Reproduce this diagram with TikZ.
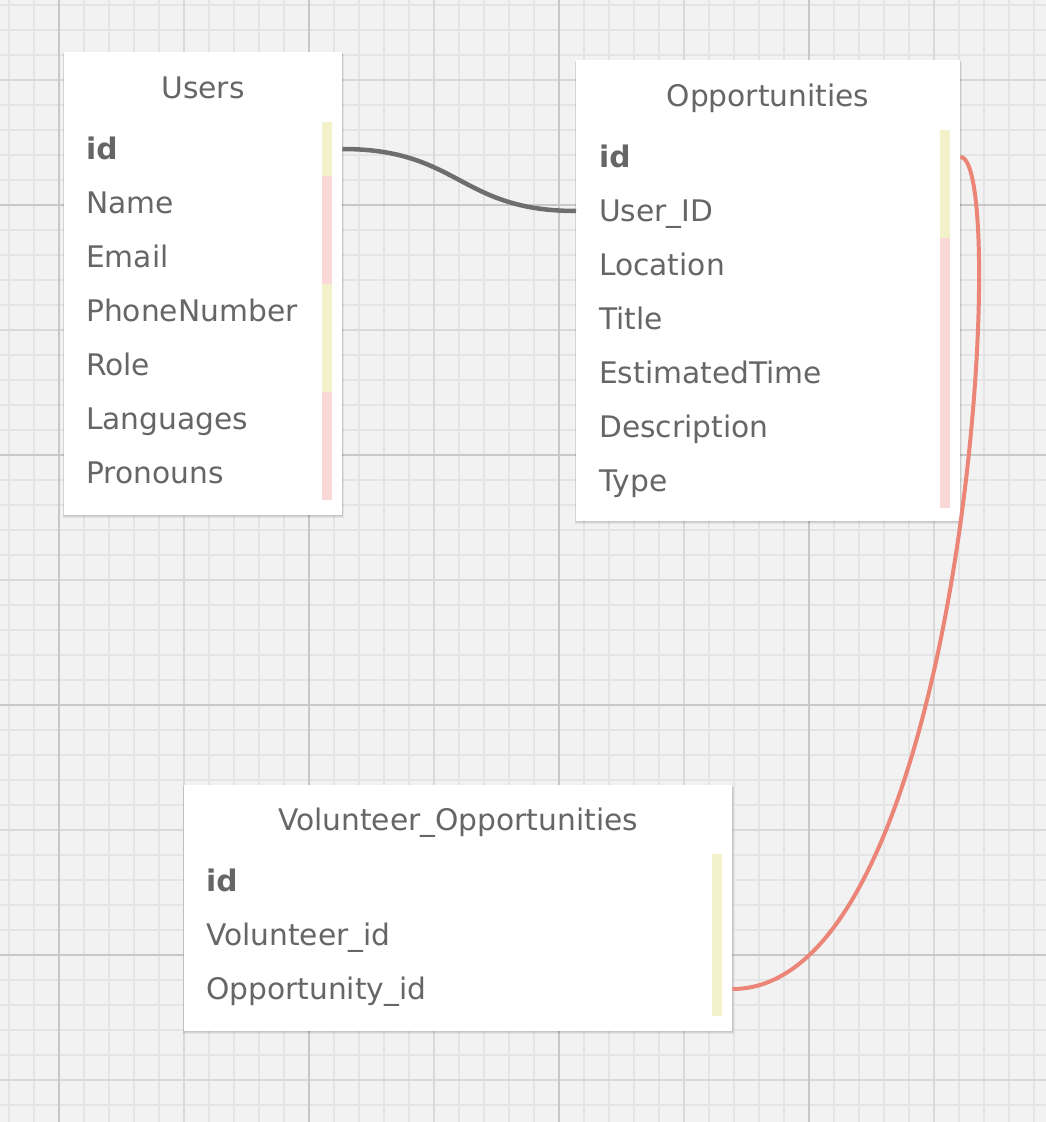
\documentclass[tikz,border=0pt]{standalone}
\usepackage{fontspec}
\setmainfont{DejaVu Sans}
\definecolor{bgc}{HTML}{F2F2F2}
\definecolor{gminor}{HTML}{E4E4E4}
\definecolor{gmed}{HTML}{D9D9D9}
\definecolor{gdark}{HTML}{C8C8C8}
\definecolor{txt}{HTML}{666666}
\definecolor{yellowbar}{HTML}{F3F1C9}
\definecolor{pinkbar}{HTML}{F9D8D7}
\definecolor{graylink}{HTML}{6E6E6E}
\definecolor{redlink}{HTML}{EB8578}
\tikzset{
  tablebox/.style={draw=none, fill=white, rectangle, inner sep=0pt, anchor=north west},
  shadowbox/.style={fill=black, opacity=0.06},
  rowtext/.style={anchor=base west, inner sep=0pt, text=txt, font=\fontsize{29.7}{34}\selectfont},
  keytext/.style={rowtext, font=\fontsize{29.7}{34}\selectfont\bfseries},
  titletext/.style={anchor=base, inner sep=0pt, text=txt, font=\fontsize{29.7}{34}\selectfont},
  link/.style={line width=4.5pt, line cap=butt},
}
\begin{document}
\begin{tikzpicture}[x=1pt, y=-1pt]
\useasboundingbox (0,0) rectangle (1046,1122);
\fill[bgc] (0,0) rectangle (1046,1122);
% grid
\foreach \k in {0,...,41} { \draw[gminor, line width=1.5pt] ({9+25*\k},0) -- ({9+25*\k},1122); }
\foreach \k in {0,...,44} { \draw[gminor, line width=1.5pt] (0,{5+25*\k}) -- (1046,{5+25*\k}); }
\foreach \k in {0,...,7} { \draw[gmed, line width=1.5pt] ({59+125*\k},0) -- ({59+125*\k},1122); }
\foreach \k in {0,...,8} { \draw[gmed, line width=1.5pt] (0,{80+125*\k}) -- (1046,{80+125*\k}); }
\foreach \k in {0,...,3} { \draw[gdark, line width=1.8pt] ({59+250*\k},0) -- ({59+250*\k},1122); }
\foreach \k in {0,...,3} { \draw[gdark, line width=1.8pt] (0,{205+250*\k}) -- (1046,{205+250*\k}); }

% shadows
\foreach \d in {1,2,3} {
  \fill[shadowbox] (64-\d*0.5,52+\d*0.5) rectangle (342+\d*0.5,515+\d);
  \fill[shadowbox] (576-\d*0.5,60+\d*0.5) rectangle (960+\d*0.5,521+\d);
  \fill[shadowbox] (184-\d*0.5,785+\d*0.5) rectangle (732+\d*0.5,1031+\d);
}

% Users table
\node[tablebox, minimum width=278pt, minimum height=463pt] (users) at (64,52) {};
\node[titletext] (usersT) at (203,98) {Users};
\fill[yellowbar] (322,122) rectangle (332,176);
\fill[pinkbar] (322,176) rectangle (332,284);
\fill[yellowbar] (322,284) rectangle (332,392);
\fill[pinkbar] (322,392) rectangle (332,500);
\node[keytext] (u1) at (86,159) {id};
\node[rowtext] (u2) at (86,213) {Name};
\node[rowtext] (u3) at (86,267) {Email};
\node[rowtext] (u4) at (86,321) {PhoneNumber};
\node[rowtext] (u5) at (86,375) {Role};
\node[rowtext] (u6) at (86,429) {Languages};
\node[rowtext] (u7) at (86,483) {Pronouns};

% Opportunities table
\node[tablebox, minimum width=384pt, minimum height=461pt] (opps) at (576,60) {};
\node[titletext] (oppsT) at (768,106) {Opportunities};
\fill[yellowbar] (940,130) rectangle (950,238);
\fill[pinkbar] (940,238) rectangle (950,508);
\node[keytext] (o1) at (599,167) {id};
\node[rowtext] (o2) at (599,221) {User\_ID};
\node[rowtext] (o3) at (599,275) {Location};
\node[rowtext] (o4) at (599,329) {Title};
\node[rowtext] (o5) at (599,383) {EstimatedTime};
\node[rowtext] (o6) at (599,437) {Description};
\node[rowtext] (o7) at (599,491) {Type};

% Volunteer_Opportunities table
\node[tablebox, minimum width=548pt, minimum height=246pt] (vol) at (184,785) {};
\node[titletext] (volT) at (458,830) {Volunteer\_Opportunities};
\fill[yellowbar] (712,854) rectangle (722,1016);
\node[keytext] (v1) at (206,891) {id};
\node[rowtext] (v2) at (206,945) {Volunteer\_id};
\node[rowtext] (v3) at (206,999) {Opportunity\_id};

% connectors
\draw[link, graylink] (users.east |- 0,149) .. controls +(117,0) and +(-117,0) .. (opps.west |- 0,211);
\draw[link, redlink, line width=4pt] (opps.east |- 0,157) .. controls +(51,0) and +(233,0) .. (vol.east |- 0,989);
\end{tikzpicture}
\end{document}
